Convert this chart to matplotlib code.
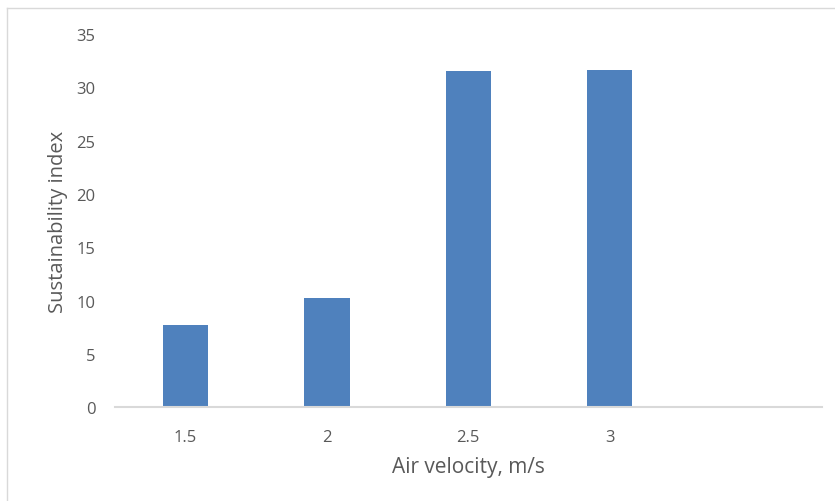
import matplotlib.pyplot as plt
from matplotlib.lines import Line2D

# Sustainability index for each air velocity (last slot left empty)
categories = ["1.5", "2", "2.5", "3", ""]
index_values = [7.7, 10.2, 31.5, 31.6, 0]

plt.rcParams['font.family'] = ['Open Sans', 'DejaVu Sans']

fig = plt.figure(figsize=(8.35, 5.02), dpi=100)
ax = fig.add_axes([0.1377, 0.1867, 0.8463, 0.7436])

x = range(len(categories))
ax.bar(x, index_values, width=0.32, color="#4F81BD", zorder=2)

ax.set_xlim(-0.5, len(categories) - 0.5)
ax.set_ylim(0, 35)
ax.set_yticks(range(0, 36, 5))
ax.set_xticks(list(x))
ax.set_xticklabels(categories)

for side in ["top", "right", "left"]:
    ax.spines[side].set_visible(False)
ax.spines["bottom"].set_color("#D9D9D9")
ax.spines["bottom"].set_linewidth(1.5)

ax.tick_params(axis="both", length=0, colors="#595959", labelsize=12)
ax.tick_params(axis="y", pad=14)
ax.tick_params(axis="x", pad=15.5)

ax.set_xlabel("Air velocity, m/s", fontsize=15, color="#595959", labelpad=8)
ax.set_ylabel("Sustainability index", fontsize=14.5, color="#595959", labelpad=6)

# chart area border
fig.add_artist(Line2D([7 / 835, 1], [1 - 9 / 502, 1 - 9 / 502], color="#D9D9D9", lw=1))
fig.add_artist(Line2D([7 / 835, 7 / 835], [0, 1 - 9 / 502], color="#D9D9D9", lw=1))

fig.savefig("out.png", dpi=100)
